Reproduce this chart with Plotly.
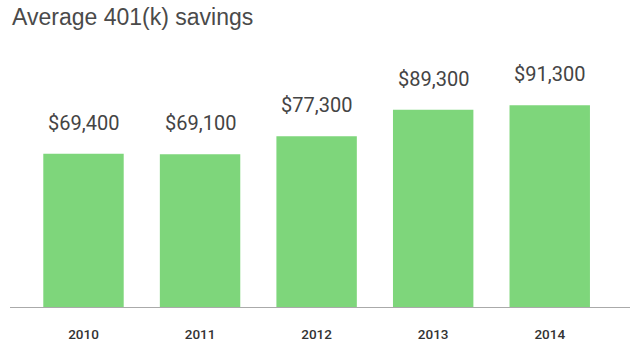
import plotly.graph_objects as go

years = ["2010", "2011", "2012", "2013", "2014"]
savings = [69400, 69100, 77300, 89300, 91300]
labels = ["$69,400", "$69,100", "$77,300", "$89,300", "$91,300"]

fig = go.Figure()
fig.add_trace(go.Bar(
    x=years, y=savings, width=0.69,
    marker=dict(color="#7ED67B", line=dict(width=0)),
    hoverinfo="skip",
))

for i, (v, lab) in enumerate(zip(savings, labels)):
    fig.add_annotation(
        x=i, y=v, text=lab, showarrow=False,
        yanchor="middle", yshift=31,
        font=dict(family="Roboto", size=20, color="#444444"),
    )

fig.add_annotation(
    xref="paper", yref="paper", x=0.0, y=1.0, yshift=33,
    xanchor="left", yanchor="middle",
    text="Average 401(k) savings", showarrow=False,
    font=dict(family="Liberation Sans, Arial", size=23, color="#4a4a4a"),
)

fig.update_layout(
    width=640, height=360,
    margin=dict(l=10, r=10, t=50, b=53),
    paper_bgcolor="white", plot_bgcolor="white",
    showlegend=False,
    xaxis=dict(
        type="category", range=[-0.6306, 4.6886],
        showline=True, linecolor="#aaaaaa", linewidth=1,
        showgrid=False, zeroline=False, ticks="",
        ticklabelstandoff=15,
        tickfont=dict(family="Roboto", size=13.5, color="#333333", weight=500),
    ),
    yaxis=dict(
        range=[0, 116290], visible=False, showgrid=False, zeroline=False,
    ),
)

fig.write_html("out.html", config={"displayModeBar": False},
               post_script="document.body.style.margin='0';")
